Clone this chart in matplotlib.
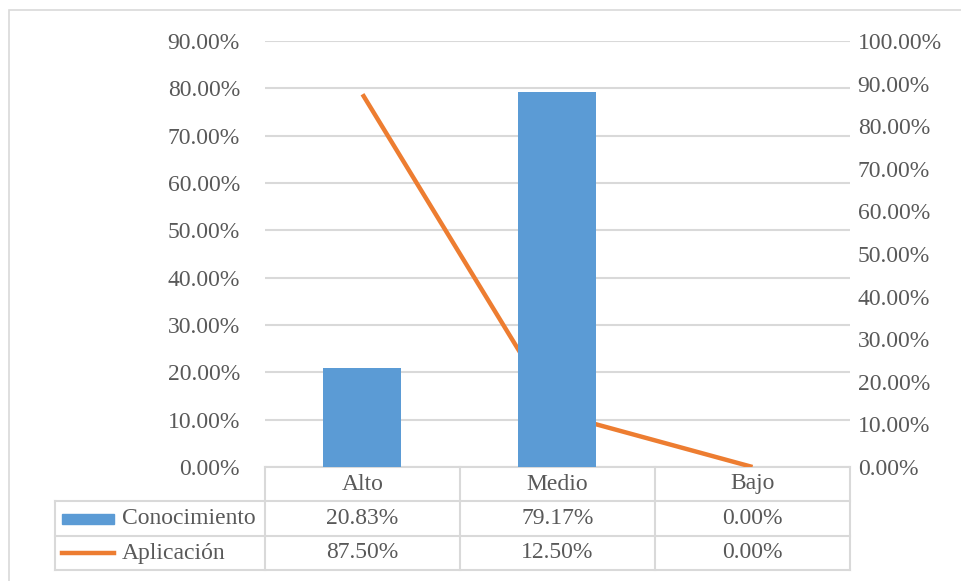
import numpy as np
import matplotlib as mp
import matplotlib.pyplot as plt
from matplotlib.patches import Rectangle
from matplotlib.lines import Line2D

mp.rcParams['font.family'] = 'Liberation Serif'
mp.rcParams.update({'font.size': 17})

categorias = ['Alto', 'Medio', 'Bajo']
conocimiento = [20.83, 79.17, 0.00]
aplicacion = [87.50, 12.50, 0.00]
series = ['Conocimiento', 'Aplicación']

azul = '#5B9BD5'
naranja = '#ED7D31'
gris = '#D9D9D9'
texto = '#595959'

fig = plt.figure(figsize=(9.62, 5.81), dpi=100)
W, H = 962, 581

# marco exterior (solo se ven izquierda y arriba)
fig.patches.append(Rectangle((9 / W, -0.05), 1, 1.05 - 10 / H, transform=fig.transFigure,
                             fill=False, edgecolor=gris, linewidth=1.2))

ax = fig.add_axes([265 / W, 1 - 467 / H, 585 / W, 426 / H])
x = np.arange(len(categorias))

ax.set_xlim(-0.5, 2.5)
ax.set_ylim(0, 90)
ax.set_yticks(np.arange(0, 91, 10))
ax.set_yticklabels(['%.2f%%' % v for v in np.arange(0, 91, 10)])
ax.yaxis.grid(True, color=gris, linewidth=1.5, zorder=0)
ax.set_xticks([])
for s in ax.spines.values():
    s.set_visible(False)
ax.tick_params(axis='y', length=0, pad=18, colors=texto, labelsize=17)

ax2 = ax.twinx()
ax2.plot(x, aplicacion, color=naranja, linewidth=3.2, solid_capstyle='butt', zorder=2)
# barras en el eje izquierdo pero dibujadas por encima de la linea
ax2.bar(x, conocimiento, width=0.4, color=azul, zorder=3, transform=ax.transData)
ax2.set_xlim(-0.5, 2.5)
ax2.set_ylim(0, 100)
ax2.set_yticks(np.arange(0, 101, 10))
ax2.set_yticklabels(['%.2f%%' % v for v in np.arange(0, 101, 10)])
for s in ax2.spines.values():
    s.set_visible(False)
ax2.tick_params(axis='y', length=0, pad=5.5, colors=texto, labelsize=17)

# tabla de datos
tr = ax.get_xaxis_transform()
fy = lambda py: (467 - py) / 426
ley_x = -0.5 - 210 / 195
filas = [fy(467), fy(501), fy(536), fy(570)]
lw = 1.5

def hline(x0, x1, y):
    ax.add_line(Line2D([x0, x1], [y, y], transform=tr, color=gris, lw=lw, clip_on=False))

def vline(xx, y0, y1):
    ax.add_line(Line2D([xx, xx], [y0, y1], transform=tr, color=gris, lw=lw, clip_on=False))

hline(-0.5, 2.5, filas[0])
for y in filas[1:]:
    hline(ley_x, 2.5, y)
for xx in [-0.5, 0.5, 1.5, 2.5]:
    vline(xx, filas[0], filas[3])
vline(ley_x, filas[1], filas[3])

for i, c in enumerate(categorias):
    ax.text(i, (filas[0] + filas[1]) / 2, c, transform=tr, ha='center', va='center',
            color=texto, fontsize=17)
for r, vals in enumerate([conocimiento, aplicacion]):
    ym = (filas[r + 1] + filas[r + 2]) / 2
    for i, v in enumerate(vals):
        ax.text(i, ym, '%.2f%%' % v, transform=tr, ha='center', va='center',
                color=texto, fontsize=17)

# leyenda dentro de la tabla
ym1 = (filas[1] + filas[2]) / 2
ym2 = (filas[2] + filas[3]) / 2
k0 = ley_x + 7 / 195
k1 = ley_x + 59 / 195
ax.add_patch(Rectangle((k0, ym1 - 5 / 426), k1 - k0, 10 / 426, transform=tr,
                       color=azul, clip_on=False))
ax.add_line(Line2D([k0, k1], [ym2, ym2], transform=tr, color=naranja, lw=3.2,
                   clip_on=False))
ax.text(ley_x + 67 / 195, ym1, series[0], transform=tr, ha='left', va='center',
        color=texto, fontsize=17)
ax.text(ley_x + 67 / 195, ym2, series[1], transform=tr, ha='left', va='center',
        color=texto, fontsize=17)

fig.savefig('out.png', dpi=100)
